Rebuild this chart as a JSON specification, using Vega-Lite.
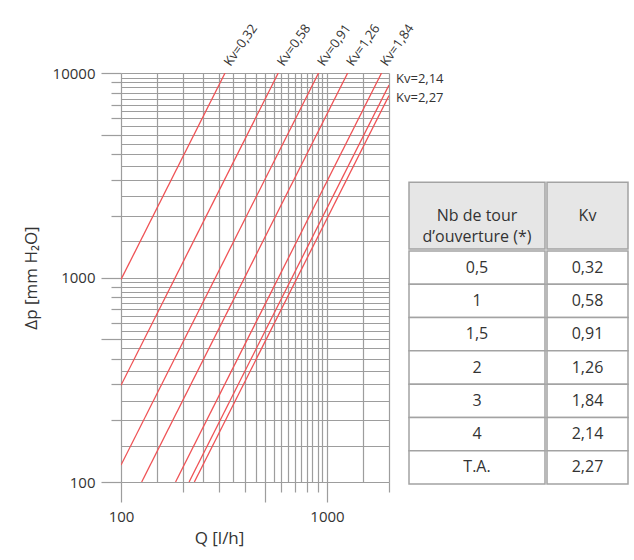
{
  "$schema": "https://vega.github.io/schema/vega-lite/v6.json",
  "background": "white",
  "padding": {"left": 22, "top": 22, "right": 5, "bottom": 10},
  "config": {"view": {"stroke": null}, "font": "Open Sans"},
  "datasets": {
    "courbes": [
      {"kv": "0,32", "q": 100, "dp": 977}, {"kv": "0,32", "q": 320, "dp": 10000},
      {"kv": "0,58", "q": 100, "dp": 297}, {"kv": "0,58", "q": 580, "dp": 10000},
      {"kv": "0,91", "q": 100, "dp": 121}, {"kv": "0,91", "q": 910, "dp": 10000},
      {"kv": "1,26", "q": 126, "dp": 100}, {"kv": "1,26", "q": 1260, "dp": 10000},
      {"kv": "1,84", "q": 184, "dp": 100}, {"kv": "1,84", "q": 1840, "dp": 10000},
      {"kv": "2,14", "q": 214, "dp": 100}, {"kv": "2,14", "q": 2000, "dp": 8730},
      {"kv": "2,27", "q": 227, "dp": 100}, {"kv": "2,27", "q": 2000, "dp": 7760}
    ],
    "etiquettes_haut": [
      {"q": 320, "dp": 10000, "texte": "Kv=0,32"},
      {"q": 580, "dp": 10000, "texte": "Kv=0,58"},
      {"q": 910, "dp": 10000, "texte": "Kv=0,91"},
      {"q": 1260, "dp": 10000, "texte": "Kv=1,26"},
      {"q": 1840, "dp": 10000, "texte": "Kv=1,84"}
    ],
    "etiquettes_droite": [
      {"q": 2000, "dp": 9350, "texte": "Kv=2,14"},
      {"q": 2000, "dp": 7550, "texte": "Kv=2,27"}
    ],
    "entete": [{"id": "en-tête", "tours": "Nb de tour\nd’ouverture (*)", "kv": "Kv"}],
    "tableau": [
      {"tours": "0,5", "kv": "0,32"},
      {"tours": "1", "kv": "0,58"},
      {"tours": "1,5", "kv": "0,91"},
      {"tours": "2", "kv": "1,26"},
      {"tours": "3", "kv": "1,84"},
      {"tours": "4", "kv": "2,14"},
      {"tours": "T.A.", "kv": "2,27"}
    ]
  },
  "bounds": "flush",
  "spacing": 20,
  "hconcat": [
    {
      "width": 268,
      "height": 409,
      "encoding": {
        "x": {
          "field": "q", "type": "quantitative", "title": "Q [l/h]",
          "scale": {"type": "log", "domain": [100, 2000], "nice": false},
          "axis": {
            "values": [100,150,200,250,300,350,400,450,500,550,600,650,700,750,800,850,900,950,1000,1500,2000],
            "grid": true, "gridColor": "#9d9d9d", "gridWidth": 1.2,
            "domain": false,
            "tickColor": "#9d9d9d", "tickWidth": 1.2, "tickSize": 20,
            "tickOpacity": {"condition": {"test": "datum.value % 100 != 0 || datum.value == 1500", "value": 0}, "value": 1},
            "tickDash": {"condition": {"test": "datum.value == 100 || datum.value == 500 || datum.value == 1000", "value": [20, 0]}, "value": [10, 40]},
            "labelExpr": "(datum.value == 100 || datum.value == 1000) ? '' + datum.value : ''",
            "labelFontSize": 15, "labelColor": "#333333", "labelPadding": 7,
            "labelFlush": false, "labelOverlap": false,
            "titleFontSize": 17, "titleFontWeight": "normal", "titleColor": "#333333",
            "titleX": 98, "titlePadding": 6
          }
        },
        "y": {
          "field": "dp", "type": "quantitative", "title": "Δp [mm H₂O]",
          "scale": {"type": "log", "domain": [100, 10000], "nice": false},
          "axis": {
            "values": [100,150,200,250,300,350,400,450,500,550,600,650,700,750,800,850,900,950,1000,1500,2000,2500,3000,3500,4000,4500,5000,5500,6000,6500,7000,7500,8000,8500,9000,9500,10000],
            "grid": true, "gridColor": "#9d9d9d", "gridWidth": 1.2,
            "domain": false,
            "tickColor": "#9d9d9d", "tickWidth": 1.2, "tickSize": 20,
            "tickOpacity": {"condition": {"test": "datum.value < 1000 ? datum.value % 100 != 0 : datum.value % 1000 != 0", "value": 0}, "value": 1},
            "tickDash": {"condition": {"test": "datum.value == 100 || datum.value == 500 || datum.value == 1000 || datum.value == 5000 || datum.value == 10000", "value": [20, 0]}, "value": [10, 40]},
            "labelExpr": "(datum.value == 100 || datum.value == 1000 || datum.value == 10000) ? '' + datum.value : ''",
            "labelFontSize": 15, "labelColor": "#333333", "labelPadding": 6,
            "labelFlush": false, "labelOverlap": false,
            "titleFontSize": 17, "titleFontWeight": "normal", "titleColor": "#333333",
            "titlePadding": 12
          }
        }
      },
      "layer": [
        {
          "data": {"name": "courbes"},
          "mark": {"type": "line", "color": "#ef5255", "strokeWidth": 1.3, "clip": true},
          "encoding": {"detail": {"field": "kv", "type": "nominal"}}
        },
        {
          "data": {"name": "etiquettes_haut"},
          "mark": {"type": "text", "angle": -55, "align": "left", "baseline": "alphabetic", "dx": 8, "dy": 1, "fontSize": 13, "color": "#333333"},
          "encoding": {"text": {"field": "texte", "type": "nominal"}}
        },
        {
          "data": {"name": "etiquettes_droite"},
          "mark": {"type": "text", "align": "left", "baseline": "middle", "dx": 7, "fontSize": 13, "color": "#333333"},
          "encoding": {"text": {"field": "texte", "type": "nominal"}}
        }
      ]
    },
    {
      "spacing": 0,
      "hconcat": [
        {
          "spacing": 0,
          "vconcat": [
            {
              "data": {"name": "entete"},
              "width": 136, "height": 176,
              "encoding": {"y": {"field": "id", "type": "nominal", "axis": null, "scale": {"paddingInner": 0, "paddingOuter": 0.82, "align": 1}}},
              "layer": [
                {"mark": {"type": "rect", "fill": "#e6e6e6", "stroke": "#a3a3a3", "strokeWidth": 1.5}},
                {"mark": {"type": "text", "lineBreak": "\n", "fontSize": 16, "lineHeight": 21, "color": "#333333"}, "encoding": {"text": {"field": "tours", "type": "nominal"}}}
              ]
            },
            {
              "data": {"name": "tableau"},
              "width": 136, "height": 233,
              "encoding": {"y": {"field": "tours", "type": "nominal", "sort": null, "axis": null, "scale": {"paddingInner": 0, "paddingOuter": 0}}},
              "layer": [
                {"mark": {"type": "rect", "fill": "white", "stroke": "#a3a3a3", "strokeWidth": 1.5}},
                {"mark": {"type": "text", "fontSize": 16, "color": "#333333"}, "encoding": {"text": {"field": "tours", "type": "nominal"}}}
              ]
            }
          ]
        },
        {
          "spacing": 0,
          "vconcat": [
            {
              "data": {"name": "entete"},
              "width": 81, "height": 176,
              "encoding": {"y": {"field": "id", "type": "nominal", "axis": null, "scale": {"paddingInner": 0, "paddingOuter": 0.82, "align": 1}}},
              "layer": [
                {"mark": {"type": "rect", "fill": "#e6e6e6", "stroke": "#a3a3a3", "strokeWidth": 1.5}},
                {"mark": {"type": "text", "fontSize": 16, "color": "#333333"}, "encoding": {"text": {"field": "kv", "type": "nominal"}}}
              ]
            },
            {
              "data": {"name": "tableau"},
              "width": 81, "height": 233,
              "encoding": {"y": {"field": "tours", "type": "nominal", "sort": null, "axis": null, "scale": {"paddingInner": 0, "paddingOuter": 0}}},
              "layer": [
                {"mark": {"type": "rect", "fill": "white", "stroke": "#a3a3a3", "strokeWidth": 1.5}},
                {"mark": {"type": "text", "fontSize": 16, "color": "#333333"}, "encoding": {"text": {"field": "kv", "type": "nominal"}}}
              ]
            }
          ]
        }
      ]
    }
  ]
}
